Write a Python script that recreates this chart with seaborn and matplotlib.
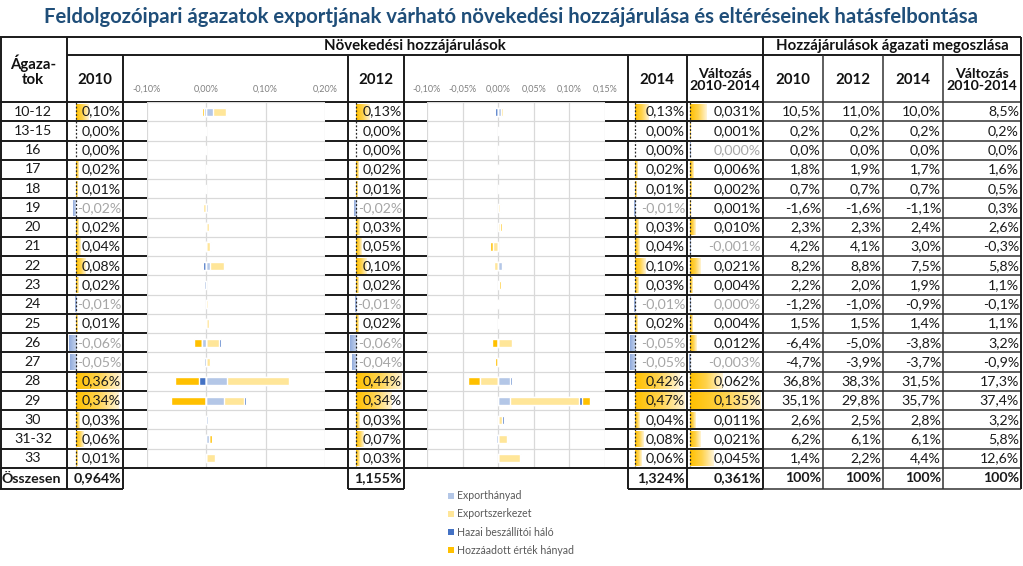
import numpy as np
import matplotlib
matplotlib.use('Agg')
import matplotlib.pyplot as plt
import seaborn as sns
from matplotlib.patches import Patch
from matplotlib.colors import LinearSegmentedColormap

# --- adatok ---
rows = ['10-12', '13-15', '16', '17', '18', '19', '20', '21', '22', '23',
        '24', '25', '26', '27', '28', '29', '30', '31-32', '33']

c2010 = [0.10, 0.00, 0.00, 0.02, 0.01, -0.02, 0.02, 0.04, 0.08, 0.02,
         -0.01, 0.01, -0.06, -0.05, 0.36, 0.34, 0.03, 0.06, 0.01]
c2012 = [0.13, 0.00, 0.00, 0.02, 0.01, -0.02, 0.03, 0.05, 0.10, 0.02,
         -0.01, 0.02, -0.06, -0.04, 0.44, 0.34, 0.03, 0.07, 0.03]
c2014 = [0.13, 0.00, 0.00, 0.02, 0.01, -0.01, 0.03, 0.04, 0.10, 0.03,
         -0.01, 0.02, -0.05, -0.05, 0.42, 0.47, 0.04, 0.08, 0.06]
valt = [0.031, 0.001, -0.0002, 0.006, 0.002, 0.001, 0.010, -0.001, 0.021, 0.004,
        -0.0002, 0.004, 0.012, -0.003, 0.062, 0.135, 0.011, 0.021, 0.045]
totals = [0.964, 1.155, 1.324, 0.361]

share2010 = [10.5, 0.2, 0.0, 1.8, 0.7, -1.6, 2.3, 4.2, 8.2, 2.2,
             -1.2, 1.5, -6.4, -4.7, 36.8, 35.1, 2.6, 6.2, 1.4]
share2012 = [11.0, 0.2, 0.0, 1.9, 0.7, -1.6, 2.3, 4.1, 8.8, 2.0,
             -1.0, 1.5, -5.0, -3.9, 38.3, 29.8, 2.5, 6.1, 2.2]
share2014 = [10.0, 0.2, 0.0, 1.7, 0.7, -1.1, 2.4, 3.0, 7.5, 1.9,
             -0.9, 1.4, -3.8, -3.7, 31.5, 35.7, 2.8, 6.1, 4.4]
share_valt = [8.5, 0.2, 0.0, 1.6, 0.5, 0.3, 2.6, -0.3, 5.8, 1.1,
              -0.1, 1.1, 3.2, -0.9, 17.3, 37.4, 3.2, 5.8, 12.6]

# hatásfelbontás (első ábra)
exph1 = [0.012, 0, 0, 0, 0, 0.002, -0.002, -0.002, 0.006, 0,
         0, 0, -0.007, -0.001, 0.035, 0.030, 0, 0.004, -0.001]
exps1 = [0.021, -0.002, -0.002, 0.001, -0.001, -0.005, 0.004, 0.006, 0.023, -0.001,
         0.002, 0.004, 0.022, 0.007, 0.105, 0.034, -0.002, -0.002, 0.014]
hazai1 = [-0.004, 0, 0, 0.002, -0.002, 0, 0, 0.002, -0.006, -0.003,
          0, -0.002, 0.002, -0.003, -0.012, 0.003, 0.003, 0, 0]
hozza1 = [-0.003, 0, 0, 0, 0, 0.002, 0, 0, -0.001, 0,
          0.001, 0, -0.014, -0.002, -0.041, -0.060, 0, 0.005, 0]

# hatásfelbontás (második ábra)
exph2 = [0.004, 0, 0.0005, 0.001, 0, 0, 0, 0, 0.006, 0,
         0, 0, 0, 0, 0.017, 0.017, 0, -0.003, 0]
exps2 = [0.003, 0, 0, 0, 0.0005, 0.002, 0.002, -0.008, -0.006, 0.001,
         -0.001, 0.001, 0.019, 0.001, -0.025, 0.097, 0.006, 0.012, 0.031]
hazai2 = [-0.004, 0.001, 0, -0.002, 0, 0, 0, 0, 0.001, 0,
          0.001, 0, 0, 0, 0.002, 0.004, 0.002, 0.002, 0.001]
hozza2 = [0, 0, 0, 0, 0, 0.002, 0.003, -0.003, 0, 0.003,
          -0.001, 0, -0.009, -0.004, -0.017, 0.011, 0, 0, 0]

comp_names = ['Exporthányad', 'Exportszerkezet', 'Hazai beszállítói háló',
              'Hozzáadott érték hányad']
comp_colors = ['#B4C7E7', '#FFE699', '#4472C4', '#FFC000']

sns.set_theme(style='white')
plt.rcParams['font.family'] = ['Lato', 'DejaVu Sans']

W, H = 1023, 566
fig = plt.figure(figsize=(W / 100, H / 100), dpi=100)


def box(x0, y0, x1, y1):
    return [x0 / W, 1 - y1 / H, (x1 - x0) / W, (y1 - y0) / H]


TOP, BOT, TOT_BOT = 102, 468, 489
ROWH = (BOT - TOP) / len(rows)
dark = '#1a1a1a'

# --- táblázat vonalai ---
base = fig.add_axes([0, 0, 1, 1])
base.set_xlim(0, W)
base.set_ylim(H, 0)
base.axis('off')


def hl(ax, y, x0, x1, c=dark, lw=1.4):
    ax.plot([x0, x1], [y, y], color=c, lw=lw, solid_capstyle='butt')


def vl(ax, x, y0, y1, c=dark, lw=1.4):
    ax.plot([x, x], [y0, y1], color=c, lw=lw, solid_capstyle='butt')


hl(base, 37, 0, 1021)
hl(base, 55, 67, 1021)
for k in range(len(rows)):
    y = TOP + k * ROWH
    hl(base, y, 0, 763)
    hl(base, y, 763, 1021, c='#333333', lw=1.1)
for x in [0.5, 67]:
    vl(base, x, 37, TOT_BOT)
for x in [123, 348, 404, 628, 687]:
    vl(base, x, 55, TOT_BOT)
vl(base, 763, 37, TOT_BOT)
vl(base, 1021, 37, TOT_BOT)
for x in [823, 883, 943]:
    vl(base, x, 55, TOT_BOT, c='#333333', lw=1.1)

# --- adatsávok a cellákban ---
pos_cmap = LinearSegmentedColormap.from_list('pos', ['#FFC000', '#FFD34D', '#FFF4D6'])
neg_cmap = LinearSegmentedColormap.from_list('neg', ['#C9D6EE', '#8FAADC'])
bar_cols = [(c2010, 67, 123), (c2012, 348, 404), (c2014, 628, 687), (valt, 687, 763)]
for vals, x0, x1 in bar_cols:
    ax = fig.add_axes(box(x0 + 1.5, TOP, x1 - 2.5, BOT))
    ax.axis('off')
    for i, v in enumerate(vals):
        if v == 0:
            continue
        bar = ax.barh(i, v, height=0.84, color='none', lw=0)[0]
        img = ax.imshow(np.linspace(0, 1, 64).reshape(1, -1),
                        cmap=pos_cmap if v > 0 else neg_cmap,
                        extent=[0, v, i + 0.42, i - 0.42], aspect='auto',
                        interpolation='bilinear')
        img.set_clip_path(bar)
    ax.axvline(0, color='#262626', lw=0.9, ls=(0, (1.5, 1.5)))
    ax.set_xlim(min(0, min(vals)), max(vals))
    ax.set_ylim(len(rows) - 0.5, -0.5)


# --- diverging stacked ábrák ---
def stacked(ax, comps, xlim, ticks):
    comps = np.array(comps, dtype=float)
    cum_pos = np.cumsum(np.clip(comps, 0, None), axis=0)
    cum_neg = np.cumsum(np.clip(comps, None, 0), axis=0)
    for k in reversed(range(len(comps))):
        for cum in (cum_pos, cum_neg):
            sns.barplot(x=cum[k], y=rows, order=rows, orient='h', color=comp_colors[k],
                        saturation=1, width=0.42, errorbar=None, ax=ax)
    ax.set_xlim(*xlim)
    ax.set_ylim(len(rows) - 0.5, -0.5)
    ax.set_yticks(np.arange(-0.5, len(rows), 1))
    ax.set_yticklabels([])
    ax.set_xticks(ticks)
    ax.set_xticklabels([f'{t:.2f}'.replace('.', ',') + '%' for t in ticks])
    ax.xaxis.tick_top()
    ax.tick_params(axis='both', length=0)
    ax.tick_params(axis='x', pad=6, labelsize=6.5, labelcolor='#808080')
    ax.grid(True, color='#D9D9D9', lw=0.9)
    ax.set_axisbelow(True)
    ax.set_xlabel('')
    ax.set_ylabel('')
    for s in ax.spines.values():
        s.set_visible(False)
    ax.set_facecolor('white')


ax1 = fig.add_axes(box(147, TOP, 325, BOT))
stacked(ax1, [exph1, exps1, hazai1, hozza1], (-0.10, 0.20), [-0.10, 0.0, 0.10, 0.20])
ax2 = fig.add_axes(box(427, TOP, 605, BOT))
stacked(ax2, [exph2, exps2, hazai2, hozza2], (-0.10, 0.15),
        [-0.10, -0.05, 0.0, 0.05, 0.10, 0.15])

# --- szövegek ---
top = fig.add_axes([0, 0, 1, 1])
top.set_xlim(0, W)
top.set_ylim(H, 0)
top.axis('off')
hl(top, BOT, 0, 763)
hl(top, BOT, 763, 1021, c='#333333', lw=1.1)
for x0, x1 in [(0, 123), (348, 404), (628, 763)]:
    hl(top, TOT_BOT, x0, x1)
hl(top, TOT_BOT, 763, 1021, c='#333333', lw=1.1)

top.text(511, 17, 'Feldolgozóipari ágazatok exportjának várható növekedési hozzájárulása '
         'és eltéréseinek hatásfelbontása', ha='center', va='center',
         fontsize=14.6, fontweight='bold', color='#1F4E79')

hdr = dict(ha='center', va='center', fontsize=10.8, fontweight='bold', color='#111111')
top.text(415, 46, 'Növekedési hozzájárulások', **hdr)
top.text(892, 46, 'Hozzájárulások ágazati megoszlása', **hdr)
top.text(33, 71, 'Ágaza-\ntok', linespacing=1.05, **hdr)
for x, lab in [(95, '2010'), (376, '2012'), (657, '2014'), (793, '2010'),
               (853, '2012'), (913, '2014')]:
    top.text(x, 80, lab, **hdr)
for x in [725, 982]:
    top.text(x, 80, 'Változás\n2010-2014', linespacing=1.1, **{**hdr, 'fontsize': 10.2})

txt = dict(va='center', fontsize=10.2, color='#1a1a1a')


def pct(v, d):
    s = f'{v:.{d}f}'
    if float(s) == 0:
        s = s.lstrip('-')
    return s.replace('.', ',') + '%'


num_cols = [(c2010, 121, 2), (c2012, 402, 2), (c2014, 685, 2), (valt, 761, 3)]
share_cols = [(share2010, 821), (share2012, 881), (share2014, 941), (share_valt, 1019)]
for i, r in enumerate(rows):
    yc = TOP + (i + 0.5) * ROWH
    top.text(33, yc, r, ha='center', **txt)
    for vals, xr, d in num_cols:
        v = vals[i]
        top.text(xr, yc, pct(v, d), ha='right',
                 **{**txt, 'color': '#A6A6A6' if v < 0 else '#1a1a1a'})
    for vals, xr in share_cols:
        top.text(xr, yc, pct(vals[i], 1), ha='right', **txt)

yt = (BOT + TOT_BOT) / 2
tot = {**txt, 'fontweight': 'bold'}
top.text(31, yt, 'Összesen', ha='center', **tot)
for v, (_, xr, d) in zip(totals, num_cols):
    top.text(xr, yt, f'{v:.3f}'.replace('.', ',') + '%', ha='right', **tot)
for _, xr in share_cols:
    top.text(xr, yt, '100%', ha='right', **tot)

handles = [Patch(facecolor=c, edgecolor='none') for c in comp_colors]
fig.legend(handles, comp_names, loc='upper left', bbox_to_anchor=(443 / W, 1 - 485 / H),
           frameon=False, fontsize=7.6, labelcolor='#595959', handlelength=0.5,
           handleheight=0.5, handletextpad=0.35, labelspacing=0.68, borderpad=0)

fig.savefig('out.png', dpi=100)
